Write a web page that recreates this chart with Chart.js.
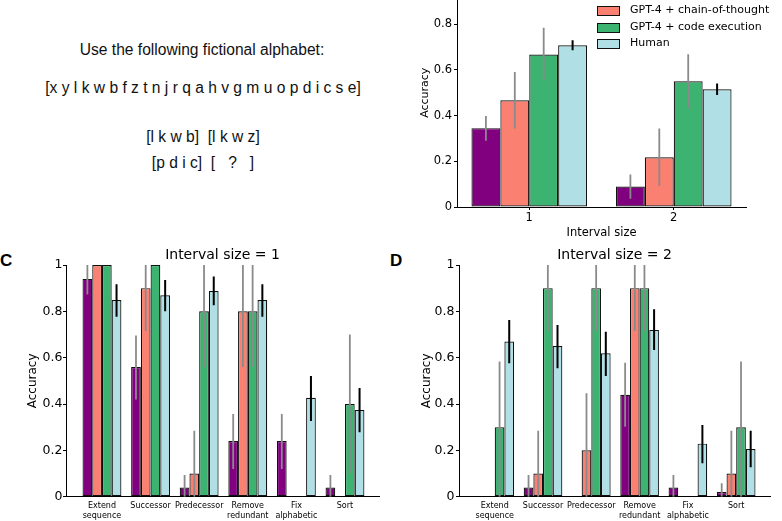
<!DOCTYPE html>
<html>
<head>
<meta charset="utf-8">
<script src="https://cdn.jsdelivr.net/npm/chart.js@4"></script>
<style>
  html, body { margin: 0; padding: 0; background: #fff; }
  body { width: 782px; height: 521px; position: relative; overflow: hidden; }
  .txt { position: absolute; font-family: "Liberation Sans", Arial, sans-serif; font-size: 15.6px; color: #111;
         white-space: pre; transform: translate(-50%, -50%); line-height: 1; }
  .letter { position: absolute; font-family: "Liberation Sans", Arial, sans-serif; font-weight: bold; font-size: 17px; color: #000; line-height: 1; }
  canvas { position: absolute; }
  #legendB { position: absolute; left: 597px; top: 0; font-family: "DejaVu Sans", sans-serif; font-size: 11px; color: #000; }
  .lrow { position: absolute; left: 0; white-space: nowrap; height: 14px; line-height: 14px; }
  .lbox { position: absolute; left: 0; top: 3px; width: 21px; height: 8px; border: 1px solid #111; }
  .llab { position: absolute; left: 33px; top: 0; }
</style>
</head>
<body>

<div class="txt" style="left:202px; top:50px;">Use the following fictional alphabet:</div>
<div class="txt" style="left:203px; top:88px;">[x y l k w b f z t n j r q a h v g m u o p d i c s e]</div>
<div class="txt" style="left:203px; top:137px;">[l k w b]  [l k w z]</div>
<div class="txt" style="left:203px; top:163px;">[p d i c]  [   ?   ]</div>

<div class="letter" style="left:0px; top:252px;">C</div>
<div class="letter" style="left:390px; top:252px;">D</div>

<canvas id="chartB" width="382" height="290" style="left:400px; top:-40px; width:382px; height:290px;"></canvas>
<div id="legendB"></div>
<canvas id="chartC" width="390" height="286" style="left:0px; top:235px; width:390px; height:286px;"></canvas>
<canvas id="chartD" width="392" height="286" style="left:390px; top:235px; width:392px; height:286px;"></canvas>

<script>
// series shared by all panels
const seriesNames = ["GPT-4", "GPT-4 + chain-of-thought", "GPT-4 + code execution", "Human"];
const seriesColors = ["#800080", "#FA8072", "#3CB371", "#B0E0E6"];
const errorColors = ["#8a8a8a", "#8a8a8a", "#8a8a8a", "#000000"];

// panel B: overall accuracy by interval size
const intervalSizes = ["1", "2"];
const bGpt4 = [0.345, 0.09];
const bCot = [0.467, 0.218];
const bCode = [0.667, 0.55];
const bHuman = [0.708, 0.515];
const bGpt4Err = [[0.29, 0.398], [0.036, 0.142]];
const bCotErr = [[0.343, 0.591], [0.092, 0.343]];
const bCodeErr = [[0.555, 0.784], [0.431, 0.669]];
const bHumanErr = [[0.686, 0.73], [0.49, 0.54]];

// panels C and D: accuracy per task
const tasks = [["Extend", "sequence"], "Successor", "Predecessor", ["Remove", "redundant"], ["Fix", "alphabetic"], "Sort"];

const cGpt4 = [0.94, 0.56, 0.04, 0.24, 0.24, 0.04];
const cCot = [1, 0.9, 0.1, 0.8, 0, 0];
const cCode = [1, 1, 0.8, 0.8, 0, 0.4];
const cHuman = [0.849, 0.869, 0.888, 0.849, 0.427, 0.374];
const cGpt4Err = [[0.873, 1], [0.42, 0.696], [0, 0.094], [0.12, 0.357], [0.12, 0.357], [0, 0.094]];
const cCotErr = [[1, 1], [0.715, 1], [0, 0.285], [0.56, 1], [0, 0], [0, 0]];
const cCodeErr = [[1, 1], [1, 1], [0.56, 1], [0.56, 1], [0, 0], [0.1, 0.7]];
const cHumanErr = [[0.777, 0.917], [0.8, 0.935], [0.826, 0.95], [0.777, 0.917], [0.327, 0.521], [0.278, 0.469]];

const dGpt4 = [0, 0.04, 0, 0.44, 0.04, 0.02];
const dCot = [0, 0.1, 0.2, 0.9, 0, 0.1];
const dCode = [0.3, 0.9, 0.9, 0.9, 0, 0.3];
const dHuman = [0.67, 0.65, 0.619, 0.72, 0.229, 0.206];
const dGpt4Err = [[0, 0], [0, 0.094], [0, 0], [0.302, 0.578], [0, 0.094], [0, 0.058]];
const dCotErr = [[0, 0], [0, 0.285], [0, 0.446], [0.715, 1], [0, 0], [0, 0.285]];
const dCodeErr = [[0, 0.583], [0.715, 1], [0.715, 1], [0.715, 1], [0, 0], [0, 0.583]];
const dHumanErr = [[0.576, 0.763], [0.554, 0.741], [0.521, 0.712], [0.633, 0.809], [0.144, 0.309], [0.127, 0.285]];

const yTicks = [0, 0.2, 0.4, 0.6, 0.8, 1];

Chart.defaults.font.family = "DejaVu Sans";
Chart.defaults.color = "#000";

// vertical error lines drawn from the y scale
const errorBars = {
  id: "errorBars",
  afterDatasetsDraw(chart) {
    const ctx = chart.ctx, y = chart.scales.y, a = chart.chartArea;
    ctx.save();
    ctx.beginPath();
    ctx.rect(a.left, a.top - 1, a.right - a.left, a.bottom - a.top + 1);
    ctx.clip();
    chart.data.datasets.forEach((ds, i) => {
      chart.getDatasetMeta(i).data.forEach((bar, j) => {
        const e = ds.errors[j];
        if (!e || e[1] <= e[0]) return;
        ctx.strokeStyle = ds.errorColor;
        ctx.lineWidth = ds.errorWidth;
        ctx.beginPath();
        ctx.moveTo(bar.x, y.getPixelForValue(e[0]));
        ctx.lineTo(bar.x, y.getPixelForValue(e[1]));
        ctx.stroke();
      });
    });
    ctx.restore();
  }
};

function makeDatasets(values, errs, asPoints) {
  return values.map((vals, i) => ({
    label: seriesNames[i],
    data: asPoints ? vals.map((v, j) => ({ x: j, y: v })) : vals,
    backgroundColor: seriesColors[i],
    borderColor: "#111",
    // empty bars get no outline
    borderWidth: c => (c.parsed && c.parsed.y === 0 ? 0 : 1.2),
    borderSkipped: false,
    categoryPercentage: 0.8,
    barPercentage: 1.0,
    errors: errs[i],
    errorColor: errorColors[i],
    errorWidth: i === 3 ? 2 : 1.8
  }));
}

const tickGrid = { display: true, drawOnChartArea: false, drawTicks: true, tickLength: 3, color: "#000", lineWidth: 1 };

function yScale(o) {
  return {
    min: 0, max: 1,
    afterBuildTicks: s => { s.ticks = yTicks.map(v => ({ value: v })); },
    afterFit: s => { s.width = o.width; },
    grid: tickGrid,
    border: { display: true, color: "#000", width: 1 },
    ticks: { font: { size: o.tickSize }, padding: o.tickPad, callback: v => String(v) },
    title: { display: true, text: "Accuracy", font: { size: o.titleSize }, padding: { top: o.titlePad, bottom: 0 } }
  };
}

// panel B
new Chart(document.getElementById("chartB"), {
  type: "bar",
  data: {
    labels: intervalSizes,
    datasets: makeDatasets([bGpt4, bCot, bCode, bHuman], [bGpt4Err, bCotErr, bCodeErr, bHumanErr], false)
  },
  options: {
    responsive: false, animation: false,
    layout: { padding: { top: 18.5, right: 36, left: 0, bottom: 0 } },
    plugins: { legend: { display: false }, tooltip: { enabled: false } },
    scales: {
      x: {
        afterFit: s => { s.height = 43; },
        grid: Object.assign({}, tickGrid, { offset: false }),
        border: { display: true, color: "#000", width: 1 },
        ticks: { font: { size: 11.5 }, padding: 1 },
        title: { display: true, text: "Interval size", font: { size: 11.5 }, padding: { top: 0, bottom: 10 } }
      },
      y: yScale({ width: 57, tickSize: 11.5, tickPad: 2, titleSize: 11, titlePad: 18.4 })
    }
  },
  plugins: [errorBars]
});

// legend for panel B
const legendB = document.getElementById("legendB");
seriesNames.forEach((name, i) => {
  const row = document.createElement("div");
  row.className = "lrow";
  row.style.top = (-13.5 + 16.5 * i) + "px";
  row.innerHTML = '<span class="lbox" style="background:' + seriesColors[i] + '"></span><span class="llab"></span>';
  row.querySelector(".llab").textContent = name;
  legendB.appendChild(row);
});

function taskChart(id, title, values, errs, yOpts, rightPad) {
  new Chart(document.getElementById(id), {
    type: "bar",
    data: { datasets: makeDatasets(values, errs, true) },
    options: {
      responsive: false, animation: false,
      layout: { padding: { top: 0, right: rightPad, left: 0, bottom: 0 } },
      plugins: {
        legend: { display: false }, tooltip: { enabled: false },
        title: { display: true, text: title, fullSize: false, font: { size: 14, weight: "normal" }, color: "#000",
                 padding: { top: 11.6, bottom: 1.6 } }
      },
      scales: {
        x: {
          type: "linear", min: -0.74, max: 5.7, offset: false,
          afterBuildTicks: s => { s.ticks = tasks.map((t, j) => ({ value: j })); },
          afterFit: s => { s.height = 24.3; },
          grid: { display: false, drawTicks: false },
          border: { display: true, color: "#000", width: 1 },
          ticks: { font: { size: 8, lineHeight: 1.25 }, padding: 4, autoSkip: false, maxRotation: 0,
                   callback: v => tasks[v] }
        },
        y: yScale(yOpts)
      }
    },
    plugins: [errorBars]
  });
}

taskChart("chartC", "Interval size = 1", [cGpt4, cCot, cCode, cHuman], [cGpt4Err, cCotErr, cCodeErr, cHumanErr],
  { width: 66, tickSize: 12.5, tickPad: 0.5, titleSize: 12, titlePad: 25.8 }, 11);
taskChart("chartD", "Interval size = 2", [dGpt4, dCot, dCode, dHuman], [dGpt4Err, dCotErr, dCodeErr, dHumanErr],
  { width: 69, tickSize: 12.5, tickPad: 1.5, titleSize: 12, titlePad: 29.5 }, 12);
</script>
</body>
</html>
